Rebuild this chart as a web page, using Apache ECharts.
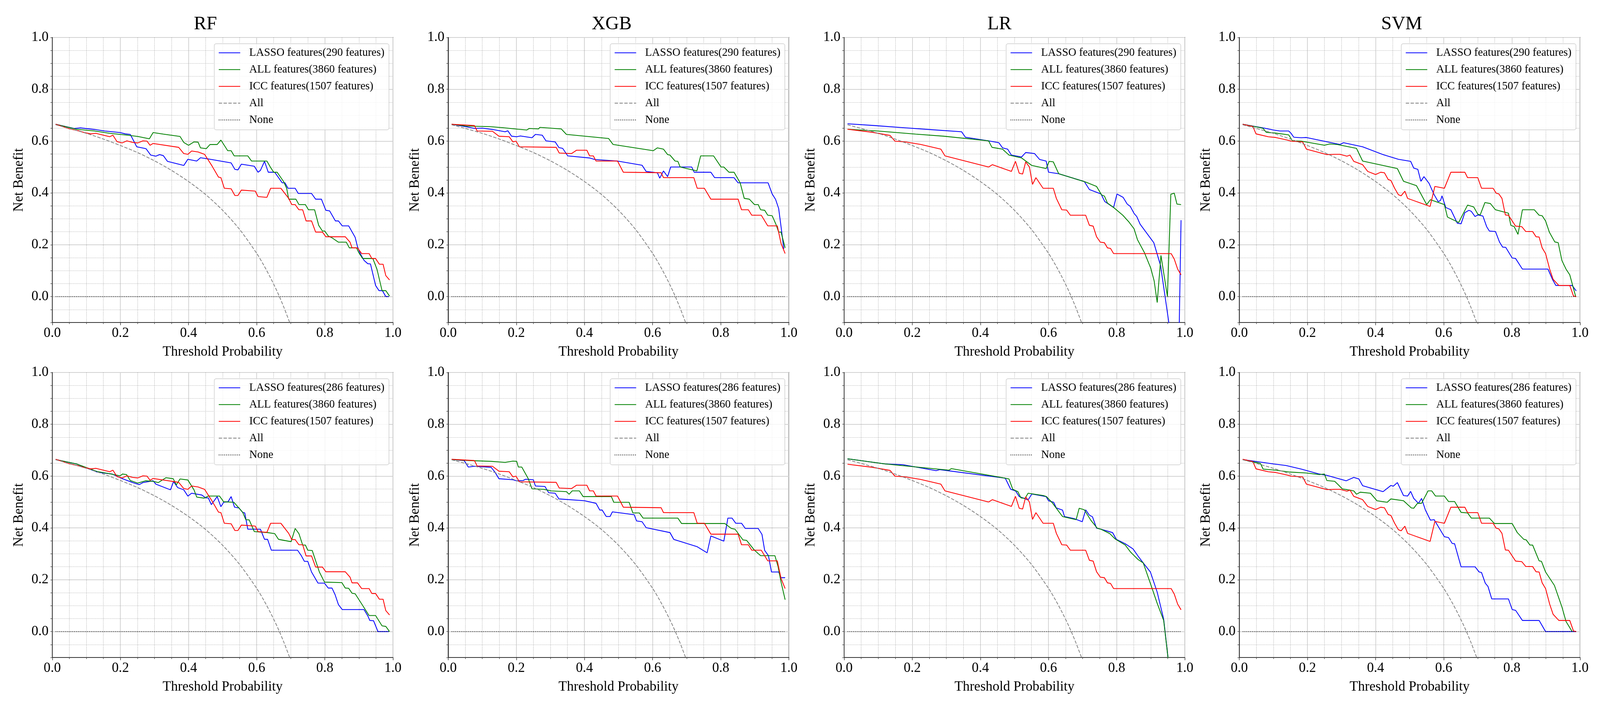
<!DOCTYPE html>
<html>
<head>
<meta charset="utf-8">
<title>Decision curves</title>
<script src="https://cdn.jsdelivr.net/npm/echarts@6/dist/echarts.min.js"></script>
<style>
  html, body { margin: 0; padding: 0; background: #fff; overflow: hidden; }
  #chart { width: 4316px; height: 1798px; }
</style>
</head>
<body>
<div id="chart"></div>
<script>
// ---- data ----
var models = ['RF', 'XGB', 'LR', 'SVM'];
var lassoNames = ['LASSO features(290 features)', 'LASSO features(286 features)'];
var allName = 'ALL features(3860 features)';
var iccName = 'ICC features(1507 features)';
var treatAllName = 'All';
var treatNoneName = 'None';

// "treat all" reference curve (same in every panel)
var treatAllX = [0.01, 0.05, 0.10, 0.15, 0.20, 0.25, 0.30, 0.35, 0.40, 0.45, 0.50, 0.55, 0.60, 0.62, 0.64, 0.66, 0.68, 0.70];
var treatAllY = [0.663, 0.649, 0.630, 0.608, 0.583, 0.556, 0.524, 0.487, 0.444, 0.394, 0.333, 0.259, 0.167, 0.123, 0.074, 0.020, -0.042, -0.111];
// "treat none"
var treatNoneX = [0.01, 0.99];
var treatNoneY = [0, 0];

// top row
var lassoRfTop = [[0.01,0.665],[0.064,0.649],[0.083,0.651],[0.124,0.645],[0.154,0.639],[0.199,0.633],[0.214,0.628],[0.229,0.626],[0.248,0.578],[0.275,0.571],[0.289,0.546],[0.304,0.542],[0.315,0.548],[0.326,0.544],[0.338,0.522],[0.386,0.506],[0.398,0.530],[0.424,0.523],[0.435,0.536],[0.454,0.532],[0.525,0.516],[0.536,0.491],[0.545,0.489],[0.555,0.511],[0.593,0.503],[0.604,0.480],[0.611,0.487],[0.623,0.522],[0.634,0.480],[0.653,0.480],[0.675,0.439],[0.683,0.439],[0.692,0.418],[0.713,0.418],[0.722,0.398],[0.761,0.398],[0.773,0.376],[0.790,0.376],[0.803,0.333],[0.814,0.331],[0.831,0.292],[0.840,0.292],[0.851,0.273],[0.870,0.273],[0.889,0.229],[0.896,0.192],[0.904,0.166],[0.915,0.140],[0.926,0.127],[0.934,0.126],[0.949,0.043],[0.959,0.023],[0.969,0.023],[0.979,0],[0.988,0]];
var allRfTop = [[0.01,0.665],[0.071,0.646],[0.124,0.639],[0.169,0.630],[0.199,0.626],[0.221,0.623],[0.251,0.618],[0.285,0.609],[0.296,0.633],[0.326,0.627],[0.375,0.618],[0.386,0.595],[0.400,0.584],[0.416,0.597],[0.428,0.596],[0.435,0.574],[0.452,0.571],[0.463,0.587],[0.484,0.587],[0.495,0.604],[0.515,0.563],[0.525,0.563],[0.534,0.543],[0.574,0.543],[0.585,0.523],[0.630,0.523],[0.640,0.500],[0.650,0.480],[0.660,0.480],[0.679,0.444],[0.688,0.418],[0.694,0.376],[0.715,0.376],[0.724,0.355],[0.743,0.355],[0.752,0.335],[0.770,0.335],[0.782,0.275],[0.793,0.253],[0.800,0.253],[0.810,0.234],[0.821,0.227],[0.840,0.210],[0.863,0.210],[0.872,0.188],[0.893,0.188],[0.900,0.169],[0.911,0.147],[0.941,0.147],[0.953,0.106],[0.968,0.023],[0.979,0.023],[0.990,0.002]];
var lassoXgbTop = [[0.01,0.665],[0.055,0.655],[0.077,0.649],[0.100,0.650],[0.130,0.645],[0.167,0.636],[0.175,0.640],[0.186,0.619],[0.201,0.617],[0.212,0.620],[0.246,0.613],[0.256,0.626],[0.276,0.623],[0.287,0.601],[0.314,0.597],[0.325,0.575],[0.336,0.572],[0.351,0.543],[0.415,0.535],[0.430,0.529],[0.497,0.523],[0.569,0.507],[0.581,0.483],[0.614,0.478],[0.621,0.457],[0.632,0.485],[0.644,0.463],[0.653,0.500],[0.715,0.500],[0.722,0.480],[0.771,0.480],[0.782,0.459],[0.839,0.459],[0.851,0.439],[0.939,0.439],[0.951,0.396],[0.961,0.375],[0.970,0.340],[0.978,0.260],[0.985,0.184]];
var allXgbTop = [[0.01,0.665],[0.055,0.658],[0.122,0.656],[0.160,0.652],[0.205,0.646],[0.231,0.643],[0.238,0.649],[0.265,0.647],[0.269,0.653],[0.332,0.647],[0.347,0.626],[0.471,0.610],[0.484,0.587],[0.602,0.563],[0.614,0.574],[0.632,0.569],[0.644,0.548],[0.651,0.546],[0.666,0.523],[0.674,0.522],[0.681,0.500],[0.730,0.485],[0.741,0.543],[0.779,0.543],[0.801,0.500],[0.809,0.500],[0.824,0.480],[0.839,0.480],[0.857,0.439],[0.869,0.379],[0.884,0.376],[0.899,0.355],[0.910,0.355],[0.917,0.335],[0.929,0.333],[0.938,0.314],[0.951,0.312],[0.962,0.279],[0.970,0.249],[0.977,0.249],[0.989,0.188]];
var lassoLrTop = [[0.01,0.667],[0.090,0.660],[0.173,0.652],[0.248,0.645],[0.345,0.636],[0.356,0.615],[0.424,0.601],[0.454,0.594],[0.465,0.574],[0.480,0.569],[0.491,0.546],[0.521,0.539],[0.533,0.556],[0.559,0.552],[0.574,0.529],[0.593,0.523],[0.600,0.480],[0.630,0.474],[0.705,0.444],[0.720,0.413],[0.754,0.396],[0.765,0.367],[0.791,0.344],[0.801,0.396],[0.819,0.383],[0.831,0.357],[0.840,0.348],[0.851,0.321],[0.859,0.309],[0.869,0.279],[0.909,0.208],[0.929,0.119],[0.953,-0.099],[0.960,-0.160],[0.983,-0.160],[0.989,0.295]];
var allLrTop = [[0.01,0.646],[0.098,0.639],[0.210,0.627],[0.293,0.619],[0.424,0.601],[0.434,0.576],[0.465,0.569],[0.484,0.546],[0.521,0.535],[0.551,0.506],[0.593,0.494],[0.602,0.522],[0.614,0.520],[0.630,0.474],[0.709,0.442],[0.741,0.425],[0.756,0.392],[0.764,0.388],[0.773,0.361],[0.791,0.344],[0.818,0.314],[0.836,0.288],[0.851,0.262],[0.861,0.220],[0.881,0.171],[0.900,0.110],[0.910,0.061],[0.919,-0.023],[0.930,0.159],[0.949,0.000],[0.959,0.395],[0.969,0.399],[0.977,0.357],[0.989,0.355]];
var lassoSvmTop = [[0.01,0.665],[0.074,0.650],[0.100,0.643],[0.119,0.639],[0.145,0.639],[0.152,0.630],[0.160,0.615],[0.182,0.613],[0.197,0.614],[0.295,0.587],[0.306,0.594],[0.362,0.578],[0.422,0.548],[0.467,0.530],[0.503,0.522],[0.512,0.496],[0.524,0.491],[0.533,0.445],[0.542,0.463],[0.557,0.437],[0.572,0.393],[0.584,0.366],[0.591,0.372],[0.595,0.389],[0.606,0.344],[0.621,0.335],[0.640,0.283],[0.651,0.281],[0.662,0.324],[0.674,0.333],[0.681,0.329],[0.692,0.309],[0.700,0.315],[0.715,0.311],[0.726,0.270],[0.734,0.253],[0.752,0.251],[0.764,0.210],[0.773,0.191],[0.782,0.190],[0.801,0.149],[0.811,0.147],[0.831,0.106],[0.906,0.106],[0.919,0.067],[0.929,0.043],[0.977,0.043],[0.989,0.022]];
var allSvmTop = [[0.01,0.665],[0.062,0.652],[0.070,0.649],[0.079,0.634],[0.107,0.631],[0.145,0.624],[0.156,0.601],[0.182,0.600],[0.250,0.584],[0.265,0.589],[0.287,0.587],[0.344,0.572],[0.362,0.523],[0.464,0.494],[0.482,0.445],[0.520,0.428],[0.550,0.355],[0.561,0.374],[0.602,0.355],[0.611,0.307],[0.644,0.286],[0.670,0.353],[0.688,0.346],[0.700,0.318],[0.707,0.315],[0.721,0.363],[0.737,0.359],[0.752,0.335],[0.790,0.322],[0.797,0.275],[0.807,0.270],[0.818,0.240],[0.831,0.335],[0.866,0.335],[0.880,0.314],[0.889,0.312],[0.899,0.292],[0.910,0.249],[0.926,0.211],[0.936,0.208],[0.947,0.139],[0.959,0.106],[0.970,0.084],[0.987,0.002]];

// bottom row
var lassoRfBottom = [[0.01,0.664],[0.071,0.647],[0.131,0.616],[0.150,0.612],[0.176,0.608],[0.206,0.590],[0.236,0.575],[0.255,0.567],[0.266,0.575],[0.296,0.582],[0.304,0.569],[0.347,0.547],[0.356,0.579],[0.368,0.556],[0.386,0.547],[0.398,0.523],[0.409,0.534],[0.439,0.527],[0.450,0.516],[0.458,0.516],[0.467,0.490],[0.484,0.521],[0.495,0.482],[0.503,0.499],[0.516,0.501],[0.525,0.521],[0.535,0.480],[0.548,0.477],[0.559,0.460],[0.565,0.458],[0.574,0.395],[0.611,0.395],[0.623,0.356],[0.632,0.356],[0.643,0.314],[0.720,0.314],[0.731,0.293],[0.740,0.271],[0.750,0.271],[0.761,0.230],[0.780,0.187],[0.799,0.187],[0.810,0.168],[0.821,0.168],[0.830,0.143],[0.840,0.104],[0.851,0.085],[0.915,0.085],[0.926,0.061],[0.932,0.043],[0.943,0.042],[0.956,0],[0.988,0]];
var allRfBottom = [[0.01,0.664],[0.071,0.647],[0.131,0.618],[0.169,0.609],[0.199,0.601],[0.206,0.608],[0.218,0.606],[0.229,0.583],[0.251,0.573],[0.274,0.582],[0.296,0.580],[0.311,0.575],[0.334,0.594],[0.355,0.590],[0.364,0.566],[0.375,0.589],[0.398,0.585],[0.416,0.547],[0.424,0.519],[0.446,0.515],[0.458,0.523],[0.491,0.523],[0.503,0.501],[0.533,0.499],[0.548,0.477],[0.559,0.460],[0.568,0.432],[0.578,0.431],[0.593,0.386],[0.632,0.382],[0.653,0.378],[0.664,0.356],[0.701,0.347],[0.713,0.398],[0.724,0.378],[0.735,0.334],[0.743,0.334],[0.750,0.314],[0.763,0.313],[0.784,0.230],[0.799,0.191],[0.850,0.189],[0.860,0.168],[0.870,0.167],[0.880,0.148],[0.889,0.146],[0.930,0.062],[0.949,0.062],[0.968,0.022],[0.979,0.020],[0.990,0]];
var lassoXgbBottom = [[0.01,0.664],[0.047,0.660],[0.059,0.635],[0.077,0.638],[0.126,0.634],[0.137,0.616],[0.149,0.590],[0.190,0.586],[0.201,0.582],[0.220,0.583],[0.227,0.588],[0.250,0.586],[0.256,0.562],[0.284,0.560],[0.295,0.536],[0.314,0.534],[0.325,0.512],[0.400,0.505],[0.434,0.495],[0.445,0.469],[0.452,0.469],[0.464,0.444],[0.475,0.444],[0.482,0.462],[0.546,0.451],[0.553,0.427],[0.569,0.424],[0.581,0.401],[0.651,0.382],[0.662,0.356],[0.730,0.328],[0.760,0.304],[0.771,0.369],[0.809,0.349],[0.821,0.438],[0.833,0.438],[0.844,0.418],[0.861,0.418],[0.872,0.398],[0.910,0.398],[0.921,0.375],[0.929,0.313],[0.940,0.293],[0.949,0.230],[0.970,0.230],[0.977,0.208],[0.989,0.208]];
var allXgbBottom = [[0.01,0.664],[0.062,0.660],[0.126,0.657],[0.167,0.653],[0.190,0.658],[0.201,0.657],[0.206,0.635],[0.216,0.635],[0.235,0.590],[0.246,0.551],[0.280,0.549],[0.302,0.543],[0.347,0.540],[0.355,0.530],[0.364,0.543],[0.385,0.543],[0.396,0.521],[0.479,0.521],[0.486,0.499],[0.531,0.499],[0.542,0.458],[0.561,0.458],[0.572,0.438],[0.674,0.438],[0.685,0.417],[0.812,0.417],[0.831,0.398],[0.842,0.395],[0.865,0.354],[0.876,0.352],[0.899,0.314],[0.917,0.293],[0.959,0.293],[0.968,0.252],[0.977,0.191],[0.989,0.123]];
var lassoLrBottom = [[0.01,0.667],[0.120,0.647],[0.173,0.644],[0.270,0.621],[0.281,0.625],[0.473,0.592],[0.489,0.549],[0.503,0.543],[0.514,0.521],[0.525,0.516],[0.540,0.508],[0.551,0.531],[0.593,0.521],[0.600,0.505],[0.615,0.499],[0.623,0.477],[0.641,0.469],[0.647,0.444],[0.675,0.436],[0.699,0.424],[0.709,0.470],[0.720,0.449],[0.729,0.443],[0.741,0.399],[0.754,0.395],[0.788,0.382],[0.799,0.356],[0.825,0.339],[0.848,0.319],[0.863,0.291],[0.881,0.260],[0.899,0.230],[0.919,0.152],[0.938,0.048],[0.951,-0.104],[0.958,-0.200]];
var allLrBottom = [[0.01,0.667],[0.120,0.647],[0.308,0.623],[0.315,0.629],[0.473,0.592],[0.484,0.589],[0.495,0.549],[0.510,0.540],[0.519,0.516],[0.531,0.514],[0.540,0.534],[0.585,0.525],[0.594,0.521],[0.611,0.497],[0.641,0.444],[0.681,0.432],[0.690,0.476],[0.705,0.470],[0.724,0.430],[0.743,0.399],[0.754,0.395],[0.780,0.378],[0.795,0.358],[0.825,0.334],[0.840,0.308],[0.863,0.278],[0.878,0.265],[0.900,0.182],[0.919,0.109],[0.938,0.043],[0.951,-0.104],[0.958,-0.200]];
var lassoSvmBottom = [[0.01,0.664],[0.100,0.647],[0.137,0.641],[0.182,0.627],[0.235,0.608],[0.257,0.603],[0.314,0.582],[0.336,0.595],[0.351,0.589],[0.362,0.563],[0.422,0.540],[0.445,0.564],[0.452,0.561],[0.464,0.575],[0.482,0.525],[0.494,0.523],[0.503,0.541],[0.512,0.514],[0.526,0.495],[0.535,0.514],[0.546,0.470],[0.561,0.430],[0.572,0.432],[0.602,0.366],[0.614,0.363],[0.625,0.340],[0.632,0.339],[0.651,0.250],[0.692,0.250],[0.704,0.230],[0.711,0.228],[0.722,0.187],[0.730,0.174],[0.741,0.126],[0.790,0.126],[0.801,0.085],[0.811,0.082],[0.831,0.043],[0.880,0.043],[0.899,0],[0.989,0]];
var allSvmBottom = [[0.01,0.664],[0.055,0.651],[0.062,0.649],[0.070,0.627],[0.107,0.623],[0.145,0.616],[0.197,0.612],[0.235,0.606],[0.250,0.608],[0.257,0.583],[0.280,0.580],[0.291,0.566],[0.302,0.551],[0.336,0.543],[0.344,0.530],[0.355,0.538],[0.385,0.534],[0.404,0.505],[0.434,0.499],[0.445,0.512],[0.482,0.505],[0.505,0.477],[0.512,0.476],[0.523,0.495],[0.535,0.495],[0.554,0.543],[0.565,0.543],[0.576,0.523],[0.602,0.523],[0.614,0.502],[0.632,0.502],[0.651,0.460],[0.670,0.458],[0.681,0.438],[0.734,0.438],[0.749,0.417],[0.801,0.417],[0.816,0.382],[0.835,0.356],[0.842,0.354],[0.853,0.334],[0.861,0.334],[0.880,0.273],[0.887,0.271],[0.899,0.230],[0.925,0.178],[0.947,0.095],[0.959,0.039],[0.977,0]];

// ICC curves are the same in both rows
var iccRf = [[0.01,0.665],[0.049,0.648],[0.079,0.639],[0.094,0.633],[0.113,0.628],[0.128,0.630],[0.150,0.623],[0.169,0.617],[0.178,0.623],[0.190,0.598],[0.205,0.593],[0.219,0.601],[0.236,0.595],[0.251,0.593],[0.266,0.601],[0.278,0.600],[0.287,0.584],[0.296,0.591],[0.371,0.576],[0.386,0.552],[0.398,0.549],[0.409,0.562],[0.428,0.558],[0.447,0.549],[0.469,0.504],[0.488,0.461],[0.495,0.459],[0.505,0.418],[0.525,0.416],[0.536,0.390],[0.545,0.390],[0.555,0.411],[0.596,0.407],[0.604,0.386],[0.630,0.383],[0.641,0.418],[0.671,0.418],[0.694,0.379],[0.703,0.355],[0.713,0.355],[0.724,0.335],[0.735,0.335],[0.745,0.292],[0.761,0.292],[0.773,0.249],[0.793,0.249],[0.803,0.231],[0.860,0.231],[0.874,0.210],[0.880,0.188],[0.896,0.188],[0.908,0.166],[0.930,0.166],[0.938,0.147],[0.949,0.147],[0.960,0.125],[0.971,0.125],[0.979,0.081],[0.990,0.064]];
var iccXgb = [[0.01,0.665],[0.077,0.660],[0.085,0.639],[0.130,0.638],[0.149,0.619],[0.179,0.617],[0.190,0.597],[0.199,0.600],[0.209,0.578],[0.317,0.576],[0.326,0.554],[0.362,0.552],[0.377,0.565],[0.407,0.565],[0.415,0.543],[0.426,0.543],[0.434,0.523],[0.497,0.523],[0.514,0.480],[0.625,0.478],[0.632,0.459],[0.721,0.459],[0.731,0.418],[0.752,0.418],[0.771,0.376],[0.851,0.376],[0.861,0.335],[0.881,0.335],[0.891,0.314],[0.919,0.314],[0.938,0.273],[0.966,0.273],[0.977,0.205],[0.989,0.166]];
var iccLr = [[0.01,0.646],[0.083,0.634],[0.135,0.622],[0.149,0.600],[0.180,0.597],[0.225,0.587],[0.284,0.569],[0.296,0.543],[0.424,0.500],[0.435,0.509],[0.491,0.483],[0.503,0.522],[0.514,0.476],[0.524,0.473],[0.533,0.520],[0.544,0.500],[0.553,0.433],[0.563,0.459],[0.584,0.418],[0.614,0.418],[0.623,0.379],[0.639,0.335],[0.653,0.334],[0.664,0.314],[0.709,0.314],[0.720,0.275],[0.731,0.272],[0.741,0.231],[0.752,0.210],[0.764,0.208],[0.773,0.188],[0.782,0.186],[0.791,0.166],[0.960,0.166],[0.969,0.145],[0.979,0.106],[0.989,0.084]];
var iccSvm = [[0.01,0.665],[0.040,0.656],[0.049,0.628],[0.085,0.617],[0.107,0.614],[0.141,0.604],[0.152,0.600],[0.186,0.597],[0.197,0.569],[0.257,0.548],[0.280,0.549],[0.295,0.549],[0.316,0.542],[0.325,0.546],[0.336,0.522],[0.362,0.509],[0.377,0.483],[0.400,0.471],[0.415,0.480],[0.426,0.478],[0.437,0.452],[0.445,0.448],[0.456,0.418],[0.467,0.393],[0.475,0.389],[0.486,0.407],[0.494,0.379],[0.560,0.348],[0.574,0.425],[0.602,0.418],[0.621,0.480],[0.662,0.480],[0.670,0.459],[0.700,0.459],[0.711,0.418],[0.745,0.418],[0.754,0.399],[0.762,0.396],[0.771,0.379],[0.781,0.315],[0.790,0.314],[0.811,0.272],[0.829,0.270],[0.841,0.251],[0.861,0.251],[0.871,0.231],[0.880,0.230],[0.889,0.188],[0.899,0.166],[0.911,0.106],[0.921,0.067],[0.938,0.043],[0.970,0.043],[0.981,0.002],[0.989,0]];

var lassoRows = [[lassoRfTop, lassoXgbTop, lassoLrTop, lassoSvmTop], [lassoRfBottom, lassoXgbBottom, lassoLrBottom, lassoSvmBottom]];
var allRows = [[allRfTop, allXgbTop, allLrTop, allSvmTop], [allRfBottom, allXgbBottom, allLrBottom, allSvmBottom]];
var iccCurves = [iccRf, iccXgb, iccLr, iccSvm];

var DcaChart = {
    FONT: 'Liberation Serif',
    // layout in reference pixels (4316 x 1798), scaled to the real viewport
    plotLefts: [141, 1209, 2277, 3343],
    plotTops: [96, 954],
    plotW: 919,
    plotH: 730,
    titleCenters: [554, 1650, 2696, 3781],
    kx: 1,
    ky: 1,

    // horizontal, vertical and size (fonts, strokes) scaling
    sx: function (v) { return Math.round(v * DcaChart.kx * 100) / 100; },
    sy: function (v) { return Math.round(v * DcaChart.ky * 100) / 100; },
    s: function (v) { return Math.round(v * DcaChart.kx * 100) / 100; },

    pairs: function (xs, ys) {
        return xs.map(function (x, i) { return [x, ys[i]]; });
    },

    lineSeries: function (name, idx, data, color, width, type, smooth) {
        var s = DcaChart.s;
        return {
            name: name, type: 'line', xAxisIndex: idx, yAxisIndex: idx * 2,
            data: data, symbol: 'none', smooth: smooth || false,
            lineStyle: { color: color, width: s(width), type: type ? type.map(s) : 'solid' },
            itemStyle: { color: color }
        };
    },

    build: function () {
        var self = DcaChart;
        var s = self.s, sx = self.sx, sy = self.sy;
        var FONT = self.FONT;
        var option = {
            animation: false,
            backgroundColor: '#ffffff',
            graphic: [], legend: [], grid: [], xAxis: [], yAxis: [], series: []
        };

        models.forEach(function (m, c) {
            option.graphic.push({
                type: 'text', x: sx(self.titleCenters[c]), y: sy(62), silent: true,
                style: {
                    text: m, textAlign: 'center', textVerticalAlign: 'middle',
                    font: s(51) + 'px "' + FONT + '"', fill: '#000'
                }
            });
        });

        for (var r = 0; r < 2; r++) {
            for (var c = 0; c < 4; c++) {
                var idx = r * 4 + c;
                var gx = self.plotLefts[c];
                var gy = self.plotTops[r];

                option.grid.push({
                    left: sx(gx), top: sy(gy), width: sx(self.plotW), height: sy(self.plotH),
                    show: true, borderColor: '#222', borderWidth: s(2),
                    containLabel: false, outerBoundsMode: 'none'
                });

                option.xAxis.push({
                    type: 'value', gridIndex: idx, min: 0, max: 1, interval: 0.2,
                    axisLine: { show: true, onZero: false, lineStyle: { color: '#333', width: s(2) } },
                    axisTick: { show: true, length: sy(7), lineStyle: { color: '#333', width: s(1.5) } },
                    minorTick: { show: true, splitNumber: 4, length: sy(4), lineStyle: { color: '#333', width: s(1.2) } },
                    splitLine: { show: true, lineStyle: { color: '#d2d2d2', width: s(2) } },
                    minorSplitLine: { show: true, lineStyle: { color: '#a8a8a8', width: s(1.2), type: [s(2), s(2)] } },
                    axisLabel: {
                        fontFamily: FONT, fontSize: s(37), color: '#000', margin: sy(10),
                        formatter: function (v) { return v.toFixed(1); }
                    },
                    name: 'Threshold Probability', nameLocation: 'middle', nameGap: sy(58),
                    nameTextStyle: { fontFamily: FONT, fontSize: s(37), color: '#000' }
                });

                // main y axis: ticks every 0.05, labels every 0.2, dotted minor grid
                option.yAxis.push({
                    type: 'value', gridIndex: idx, min: -0.1, max: 1.0, interval: 0.05,
                    axisLine: { show: true, onZero: false, lineStyle: { color: '#333', width: s(2) } },
                    axisTick: { show: true, length: sx(5), lineStyle: { color: '#333', width: s(1.2) } },
                    splitLine: {
                        show: true,
                        lineStyle: { color: ['#a8a8a8', '#a8a8a8', 'rgba(0,0,0,0)', '#a8a8a8'], width: s(1.2), type: [s(2), s(2)] }
                    },
                    axisLabel: {
                        fontFamily: FONT, fontSize: s(37), color: '#000', margin: sx(10),
                        formatter: function (v) {
                            return Math.abs(Math.round(v * 100)) % 20 === 0 ? v.toFixed(1) : '';
                        }
                    },
                    name: 'Net Benefit', nameLocation: 'middle', nameGap: sx(71), nameRotate: 90,
                    nameTextStyle: { fontFamily: FONT, fontSize: s(37), color: '#000' }
                });
                // helper y axis: solid major grid every 0.2
                option.yAxis.push({
                    type: 'value', gridIndex: idx, min: -0.1, max: 1.0, interval: 0.1, position: 'left',
                    axisLine: { show: false }, axisTick: { show: false }, axisLabel: { show: false },
                    splitLine: { show: true, lineStyle: { color: ['rgba(0,0,0,0)', '#d2d2d2'], width: s(2) } }
                });

                var lassoName = lassoNames[r];
                option.series.push(self.lineSeries(lassoName, idx, lassoRows[r][c], '#0000ff', 2.2));
                option.series.push(self.lineSeries(allName, idx, allRows[r][c], '#008000', 2.2));
                option.series.push(self.lineSeries(iccName, idx, iccCurves[c], '#ff0000', 2.2));
                option.series.push(self.lineSeries(treatAllName, idx, self.pairs(treatAllX, treatAllY), '#808080', 2, [9, 4], 0.3));
                option.series.push(self.lineSeries(treatNoneName, idx, self.pairs(treatNoneX, treatNoneY), '#111111', 2, [2, 3]));

                var rowH = s(30);
                option.legend.push({
                    orient: 'vertical',
                    left: sx(gx + 437), top: sy(gy + 16),
                    data: [lassoName, allName, iccName, treatAllName, treatNoneName],
                    itemWidth: sx(58), itemHeight: s(14), itemGap: Math.max(2, sy(43) - rowH),
                    padding: [sy(9), sx(12), sy(11), sx(11)],
                    backgroundColor: 'rgba(255,255,255,0.8)',
                    borderColor: '#cccccc', borderWidth: s(1.5), borderRadius: s(5),
                    selectedMode: false,
                    itemStyle: { opacity: 0 },
                    textStyle: { fontFamily: FONT, fontSize: s(30), lineHeight: rowH, color: '#000', padding: [0, 0, 0, sx(19)] }
                });
            }
        }
        return option;
    },

    init: function () {
        var w = window.innerWidth || 4316;
        var h = window.innerHeight || 1798;
        DcaChart.kx = w / 4316;
        DcaChart.ky = h / 1798;
        var dom = document.getElementById('chart');
        dom.style.width = w + 'px';
        dom.style.height = h + 'px';
        var myChart = echarts.init(dom);
        myChart.setOption(DcaChart.build());
    }
};

DcaChart.init();
</script>
</body>
</html>
